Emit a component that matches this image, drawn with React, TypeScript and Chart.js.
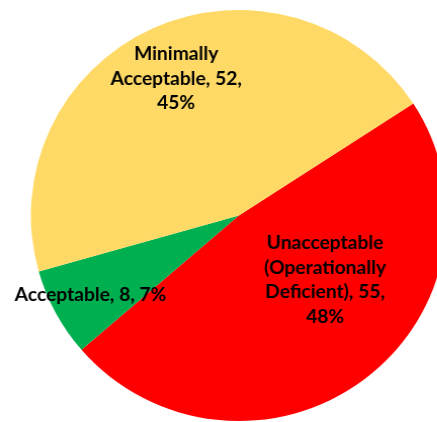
import React, { useEffect, useRef } from "react";
import { Chart, registerables } from "chart.js";

Chart.register(...registerables);

const categories = [
  "Unacceptable (Operationally Deficient)",
  "Acceptable",
  "Minimally Acceptable",
];
const values = [55, 8, 52];
const percents = ["48%", "7%", "45%"];
const labelLines = [
  ["Unacceptable", "(Operationally", "Deficient), 55,", "48%"],
  ["Acceptable, 8, 7%"],
  ["Minimally", "Acceptable, 52,", "45%"],
];
const colors = ["#FF0000", "#00B050", "#FFD966"];

// label placement (fraction of radius, angle offset in degrees) - Excel "best fit" style
const labelRadius = [0.52, 0.81, 0.73];
const labelAngleOffset = [-16, 0, 0];

const labelPlugin = {
  id: "sliceLabels",
  afterDatasetsDraw(chart: any) {
    const ctx = chart.ctx;
    const meta = chart.getDatasetMeta(0);
    ctx.save();
    ctx.fillStyle = "#000000";
    ctx.font = "bold 19px Lato, 'Open Sans', sans-serif";
    ctx.textAlign = "center";
    ctx.textBaseline = "middle";
    const lh = 24.5;
    meta.data.forEach((arc: any, i: number) => {
      const { x, y, startAngle, endAngle, outerRadius } = arc.getProps(
        ["x", "y", "startAngle", "endAngle", "outerRadius"],
        true
      );
      const mid = (startAngle + endAngle) / 2 + (labelAngleOffset[i] * Math.PI) / 180;
      const r = outerRadius * labelRadius[i];
      const cx = x + Math.cos(mid) * r;
      const cy = y + Math.sin(mid) * r;
      const lines = labelLines[i];
      const top = cy - ((lines.length - 1) * lh) / 2;
      lines.forEach((t, k) => ctx.fillText(t, cx, top + k * lh));
    });
    ctx.restore();
  },
};

export default function App() {
  const ref = useRef<HTMLCanvasElement | null>(null);
  useEffect(() => {
    document.body.style.margin = "0";
    const chart = new Chart(ref.current as HTMLCanvasElement, {
      type: "pie",
      data: {
        labels: categories,
        datasets: [
          {
            data: values,
            backgroundColor: colors,
            borderWidth: 0,
          },
        ],
      },
      options: {
        animation: false,
        responsive: false,
        devicePixelRatio: 1,
        rotation: 57,
        layout: { padding: { left: 30.5, top: 10, right: 8.5, bottom: 9 } },
        plugins: {
          legend: { display: false },
          tooltip: { enabled: false },
        },
      },
      plugins: [labelPlugin],
    });
    return () => chart.destroy();
  }, []);
  return (
    <div
      style={{
        position: "absolute",
        left: 0,
        top: 0,
        width: 437,
        height: 422,
        overflow: "hidden",
        background: "#fff",
      }}
    >
      <div style={{ transform: "scaleX(1.012)", transformOrigin: "0 0", width: 450, height: 430 }}>
        <canvas ref={ref} width={450} height={430} style={{ width: 450, height: 430, display: "block" }} />
      </div>
    </div>
  );
}
